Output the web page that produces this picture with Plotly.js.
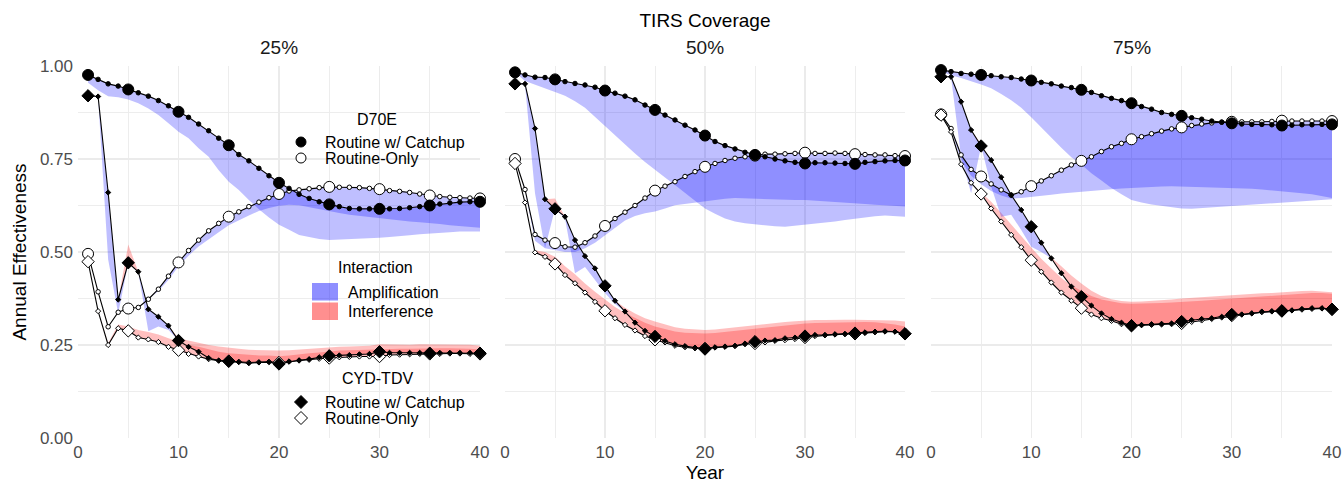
<!DOCTYPE html>
<html>
<head>
<meta charset="utf-8">
<script src="https://cdn.plot.ly/plotly-3.0.1.min.js"></script>
<style>html,body{margin:0;padding:0;background:#fff;}#chart{width:1342px;height:483px;}</style>
</head>
<body>
<div id="chart"></div>
<script>
// ---------- DATA ----------
const years = [1,2,3,4,5,6,7,8,9,10,11,12,13,14,15,16,17,18,19,20,21,22,23,24,25,26,27,28,29,30,31,32,33,34,35,36,37,38,39,40];
const bigYears = [1,5,10,15,20,25,30,35,40];
const panelTitles = ["25%", "50%", "75%"];
const xTicks = [0,10,20,30,40];
const yTicks = [0,0.25,0.5,0.75,1];

// 25% coverage
const d70eCatch25 = [0.976,0.964,0.952,0.946,0.937,0.928,0.919,0.907,0.893,0.877,0.862,0.844,0.826,0.806,0.787,0.762,0.745,0.725,0.705,0.686,0.671,0.655,0.644,0.635,0.628,0.622,0.617,0.616,0.616,0.616,0.616,0.617,0.619,0.622,0.625,0.629,0.632,0.634,0.635,0.635];
const d70eCatchRef25 = [0.955,0.935,0.919,0.916,0.91,0.90,0.886,0.868,0.846,0.823,0.806,0.779,0.756,0.72,0.689,0.667,0.64,0.615,0.593,0.573,0.56,0.546,0.54,0.535,0.532,0.532,0.533,0.535,0.537,0.538,0.54,0.542,0.545,0.548,0.55,0.552,0.553,0.555,0.556,0.555];
const d70eRout25 = [0.495,0.393,0.299,0.338,0.348,0.351,0.373,0.40,0.435,0.472,0.504,0.532,0.557,0.577,0.595,0.608,0.622,0.634,0.646,0.656,0.664,0.667,0.670,0.673,0.675,0.674,0.674,0.673,0.671,0.669,0.665,0.663,0.660,0.656,0.652,0.649,0.647,0.646,0.645,0.644];
const d70eRoutRef25 = [0.495,0.393,0.299,0.338,0.348,0.351,0.373,0.395,0.425,0.462,0.49,0.515,0.535,0.553,0.572,0.585,0.598,0.61,0.618,0.624,0.627,0.626,0.622,0.616,0.61,0.605,0.60,0.596,0.593,0.59,0.588,0.585,0.582,0.58,0.578,0.575,0.572,0.57,0.567,0.565];
const cydCatch25 = [0.92,0.918,0.66,0.372,0.471,0.447,0.346,0.326,0.302,0.262,0.245,0.232,0.215,0.208,0.206,0.204,0.201,0.203,0.204,0.199,0.205,0.209,0.212,0.217,0.221,0.222,0.223,0.225,0.226,0.232,0.229,0.229,0.229,0.229,0.228,0.229,0.229,0.229,0.229,0.228];
const cydCatchRef25 = [0.92,0.915,0.48,0.335,0.52,0.445,0.287,0.30,0.29,0.268,0.262,0.255,0.25,0.246,0.244,0.24,0.237,0.236,0.236,0.235,0.236,0.238,0.24,0.242,0.244,0.245,0.246,0.247,0.248,0.252,0.251,0.251,0.251,0.252,0.252,0.252,0.252,0.252,0.251,0.248];
const cydRout25 = [0.474,0.341,0.25,0.295,0.288,0.27,0.265,0.258,0.245,0.236,0.226,0.219,0.212,0.208,0.207,0.205,0.203,0.204,0.205,0.203,0.206,0.208,0.21,0.213,0.215,0.217,0.218,0.219,0.219,0.219,0.223,0.224,0.225,0.226,0.226,0.226,0.227,0.227,0.226,0.226];
const cydRoutRef25 = [0.474,0.341,0.255,0.305,0.30,0.29,0.285,0.278,0.268,0.258,0.25,0.245,0.238,0.232,0.228,0.226,0.222,0.222,0.222,0.22,0.222,0.226,0.228,0.23,0.233,0.235,0.236,0.237,0.238,0.24,0.24,0.24,0.24,0.241,0.241,0.241,0.241,0.241,0.24,0.238];

// 50% coverage
const d70eCatch50 = [0.983,0.976,0.970,0.969,0.964,0.958,0.953,0.949,0.943,0.934,0.927,0.919,0.909,0.895,0.882,0.868,0.855,0.841,0.828,0.813,0.797,0.786,0.777,0.768,0.761,0.756,0.75,0.745,0.741,0.738,0.740,0.740,0.739,0.738,0.737,0.741,0.743,0.745,0.746,0.746];
const d70eCatchRef50 = [0.983,0.96,0.95,0.94,0.93,0.92,0.905,0.888,0.865,0.84,0.815,0.79,0.765,0.742,0.72,0.70,0.68,0.66,0.638,0.617,0.603,0.59,0.582,0.577,0.573,0.571,0.569,0.568,0.57,0.573,0.576,0.579,0.582,0.586,0.59,0.593,0.596,0.598,0.597,0.595];
const d70eRout50 = [0.75,0.668,0.547,0.532,0.524,0.514,0.513,0.525,0.543,0.57,0.59,0.607,0.625,0.645,0.665,0.677,0.689,0.703,0.716,0.729,0.738,0.746,0.752,0.756,0.759,0.763,0.763,0.764,0.765,0.767,0.765,0.765,0.766,0.765,0.763,0.762,0.761,0.761,0.759,0.758];
const d70eRoutRef50 = [0.75,0.665,0.53,0.51,0.505,0.50,0.50,0.51,0.525,0.546,0.565,0.585,0.597,0.604,0.609,0.617,0.626,0.63,0.633,0.635,0.64,0.643,0.645,0.645,0.644,0.643,0.642,0.641,0.64,0.64,0.639,0.637,0.635,0.633,0.631,0.629,0.627,0.625,0.623,0.622];
const cydCatch50 = [0.952,0.952,0.832,0.642,0.616,0.595,0.532,0.489,0.456,0.409,0.369,0.34,0.31,0.288,0.273,0.261,0.252,0.247,0.243,0.239,0.244,0.246,0.248,0.254,0.259,0.262,0.263,0.268,0.27,0.274,0.277,0.277,0.279,0.28,0.282,0.284,0.286,0.287,0.286,0.28];
const cydCatchRef50 = [0.952,0.95,0.658,0.51,0.644,0.59,0.443,0.46,0.425,0.39,0.36,0.35,0.335,0.322,0.313,0.305,0.298,0.294,0.291,0.29,0.292,0.295,0.298,0.30,0.303,0.306,0.309,0.312,0.314,0.316,0.317,0.317,0.318,0.318,0.318,0.318,0.318,0.318,0.316,0.313];
const cydRout50 = [0.738,0.633,0.499,0.487,0.468,0.438,0.416,0.391,0.366,0.342,0.322,0.304,0.289,0.274,0.264,0.257,0.248,0.244,0.241,0.241,0.243,0.245,0.247,0.252,0.254,0.257,0.261,0.263,0.266,0.27,0.274,0.276,0.278,0.279,0.28,0.282,0.284,0.286,0.286,0.28];
const cydRoutRef50 = [0.738,0.633,0.505,0.50,0.487,0.462,0.44,0.415,0.393,0.372,0.352,0.336,0.322,0.31,0.30,0.292,0.286,0.283,0.281,0.281,0.282,0.285,0.288,0.291,0.294,0.297,0.30,0.303,0.306,0.308,0.309,0.31,0.311,0.312,0.313,0.312,0.311,0.309,0.305,0.30];

// 75% coverage
const d70eCatch75 = [0.989,0.985,0.98,0.978,0.976,0.974,0.971,0.969,0.965,0.961,0.956,0.952,0.946,0.942,0.936,0.929,0.92,0.913,0.907,0.90,0.891,0.884,0.875,0.87,0.866,0.861,0.857,0.852,0.849,0.846,0.844,0.843,0.843,0.842,0.84,0.841,0.842,0.842,0.843,0.843];
const d70eCatchRef75 = [0.985,0.975,0.968,0.96,0.95,0.94,0.925,0.908,0.888,0.862,0.835,0.808,0.78,0.755,0.735,0.712,0.692,0.672,0.655,0.64,0.633,0.628,0.623,0.62,0.617,0.616,0.617,0.618,0.62,0.622,0.624,0.626,0.628,0.63,0.632,0.634,0.636,0.638,0.64,0.642];
const d70eRout75 = [0.87,0.832,0.761,0.722,0.703,0.683,0.667,0.653,0.662,0.677,0.691,0.705,0.72,0.734,0.745,0.756,0.77,0.783,0.792,0.803,0.81,0.818,0.825,0.831,0.835,0.84,0.844,0.847,0.849,0.85,0.85,0.85,0.85,0.851,0.853,0.852,0.852,0.852,0.852,0.852];
const d70eRoutRef75 = [0.87,0.83,0.745,0.705,0.682,0.664,0.652,0.644,0.645,0.648,0.651,0.654,0.657,0.66,0.663,0.665,0.667,0.669,0.671,0.673,0.674,0.675,0.676,0.677,0.677,0.676,0.675,0.674,0.673,0.672,0.671,0.67,0.668,0.666,0.664,0.661,0.658,0.655,0.651,0.645];
const cydCatch75 = [0.971,0.971,0.904,0.828,0.785,0.747,0.701,0.653,0.613,0.568,0.525,0.483,0.443,0.407,0.38,0.356,0.335,0.32,0.31,0.302,0.304,0.306,0.307,0.308,0.313,0.317,0.32,0.322,0.326,0.332,0.332,0.335,0.34,0.341,0.342,0.343,0.347,0.349,0.349,0.346];
const cydCatchRef75 = [0.971,0.97,0.756,0.658,0.79,0.676,0.595,0.60,0.559,0.514,0.50,0.485,0.462,0.437,0.415,0.396,0.382,0.373,0.368,0.366,0.367,0.368,0.37,0.372,0.375,0.377,0.378,0.38,0.382,0.385,0.386,0.387,0.389,0.39,0.391,0.393,0.395,0.396,0.395,0.392];
const cydRout75 = [0.868,0.823,0.736,0.686,0.656,0.617,0.582,0.546,0.513,0.478,0.447,0.418,0.391,0.369,0.349,0.332,0.322,0.315,0.306,0.302,0.303,0.304,0.305,0.306,0.308,0.312,0.316,0.32,0.324,0.329,0.332,0.335,0.338,0.34,0.341,0.343,0.345,0.347,0.348,0.346];
const cydRoutRef75 = [0.868,0.823,0.736,0.686,0.66,0.635,0.605,0.573,0.543,0.512,0.482,0.455,0.43,0.41,0.395,0.382,0.372,0.366,0.362,0.361,0.361,0.362,0.363,0.364,0.365,0.367,0.369,0.371,0.373,0.375,0.377,0.379,0.381,0.383,0.385,0.387,0.389,0.39,0.39,0.388];

// ---------- BUILD ----------
const FONT = "Liberation Sans, Arial, Helvetica, sans-serif";
const BLUE = "rgba(0,0,255,0.25)";
const RED = "rgba(255,0,0,0.25)";

const panels = [
  {xa:"x",  ya:"y",  series:[[d70eRout25,d70eRoutRef25],[d70eCatch25,d70eCatchRef25],[cydRout25,cydRoutRef25],[cydCatch25,cydCatchRef25]]},
  {xa:"x2", ya:"y2", series:[[d70eRout50,d70eRoutRef50],[d70eCatch50,d70eCatchRef50],[cydRout50,cydRoutRef50],[cydCatch50,cydCatchRef50]]},
  {xa:"x3", ya:"y3", series:[[d70eRout75,d70eRoutRef75],[d70eCatch75,d70eCatchRef75],[cydRout75,cydRoutRef75],[cydCatch75,cydCatchRef75]]}
];
// marker styles in the same order as series: D70E RO, D70E catch-up, CYD RO, CYD catch-up
const styles = [
  {symbol:"circle",  fill:"#ffffff", big:11,  small:4.5},
  {symbol:"circle",  fill:"#000000", big:11,  small:4.5},
  {symbol:"diamond", fill:"#ffffff", big:9.5, small:4},
  {symbol:"diamond", fill:"#000000", big:9.5, small:4}
];

const traces = [];
const xsPoly = years.concat(years.slice().reverse());
panels.forEach(p => {
  p.series.forEach(([line, ref]) => {
    const lo = line.map((v,i) => Math.min(v, ref[i]));
    const hi = line.map((v,i) => Math.max(v, ref[i]));
    traces.push({type:"scatter", mode:"lines", x:xsPoly, y:line.concat(lo.slice().reverse()),
      fill:"toself", fillcolor:BLUE, line:{width:0, color:"rgba(0,0,0,0)"}, hoverinfo:"skip", showlegend:false, xaxis:p.xa, yaxis:p.ya});
    traces.push({type:"scatter", mode:"lines", x:xsPoly, y:hi.concat(line.slice().reverse()),
      fill:"toself", fillcolor:RED, line:{width:0, color:"rgba(0,0,0,0)"}, hoverinfo:"skip", showlegend:false, xaxis:p.xa, yaxis:p.ya});
  });
});
panels.forEach(p => {
  p.series.forEach(([line], k) => {
    const st = styles[k];
    traces.push({type:"scatter", mode:"lines+markers", x:years, y:line, cliponaxis:false,
      line:{color:"#000", width:1.1},
      marker:{symbol:st.symbol, color:st.fill, opacity:1, size:years.map(y => bigYears.includes(y) ? st.big : st.small),
              line:{color:"#000", width:1}},
      showlegend:false, xaxis:p.xa, yaxis:p.ya});
  });
});

// pixel -> paper helpers (plot area: x 78..1332, y 66..438)
const L = 78, W = 1254, B = 438, H = 372;
const px = v => (v - L) / W;
const py = v => (B - v) / H;

const gridCol = "#EBEBEB";
function xAxis(dom, anchor, extra) {
  return Object.assign({domain:dom, anchor:anchor, range:[0,40], tickvals:xTicks, ticks:"", showline:false, zeroline:false,
    gridcolor:gridCol, gridwidth:1.4, minor:{dtick:5, tick0:0, showgrid:true, gridcolor:gridCol, gridwidth:0.9},
    tickfont:{family:FONT, size:17, color:"#4D4D4D"}, ticklabelstandoff:2, fixedrange:true}, extra||{});
}
function yAxis(anchor, extra) {
  return Object.assign({domain:[0,1], anchor:anchor, range:[0,1], tickvals:yTicks, tickformat:".2f", ticks:"", showline:false, zeroline:false,
    gridcolor:gridCol, gridwidth:1.4, minor:{dtick:0.125, tick0:0, showgrid:true, gridcolor:gridCol, gridwidth:0.9},
    tickfont:{family:FONT, size:17, color:"#4D4D4D"}, ticklabelstandoff:4, fixedrange:true}, extra||{});
}

const d1 = [0, px(480)], d2 = [px(505), px(905)], d3 = [px(931), 1];

const annotations = [];
[d1,d2,d3].forEach((d,i) => annotations.push({text:panelTitles[i], xref:"paper", yref:"paper", x:(d[0]+d[1])/2, y:py(47),
  xanchor:"center", yanchor:"middle", showarrow:false, font:{family:FONT, size:19, color:"#1a1a1a"}}));

function txt(t, x, y, anchor) {
  annotations.push({text:t, xref:"paper", yref:"paper", x:px(x), y:py(y), xanchor:anchor, yanchor:"middle",
    showarrow:false, font:{family:FONT, size:16, color:"#000"}});
}
txt("D70E", 377, 119, "center");
txt("Routine w/ Catchup", 323, 142, "left");
txt("Routine-Only", 323, 158, "left");
txt("Interaction", 375, 267, "center");
txt("Amplification", 346, 292, "left");
txt("Interference", 346, 311, "left");
txt("CYD-TDV", 377, 378, "center");
txt("Routine w/ Catchup", 323, 402, "left");
txt("Routine-Only", 323, 418, "left");

const shapes = [];
function circ(cx, cy, r, fill) {
  shapes.push({type:"circle", xref:"paper", yref:"paper", x0:px(cx-r), x1:px(cx+r), y0:py(cy+r), y1:py(cy-r),
    fillcolor:fill, line:{color:"#000", width:1}});
}
function diam(cx, cy, r, fill) {
  const path = "M" + px(cx-r) + "," + py(cy) + " L" + px(cx) + "," + py(cy-r) + " L" + px(cx+r) + "," + py(cy) +
               " L" + px(cx) + "," + py(cy+r) + " Z";
  shapes.push({type:"path", xref:"paper", yref:"paper", path:path, fillcolor:fill, line:{color:"#000", width:1}});
}
function key(x0, y0, x1, y1, fill) {
  shapes.push({type:"rect", xref:"paper", yref:"paper", x0:px(x0), x1:px(x1), y0:py(y1), y1:py(y0), fillcolor:fill, line:{width:0}});
}
circ(301, 142, 5, "#000");
circ(301, 158, 5, "#fff");
key(312, 283, 338, 300.5, "rgba(0,0,255,0.4375)");
key(312, 302.5, 338, 320, "rgba(255,0,0,0.4375)");
diam(301, 402, 6.5, "#000");
diam(301, 418, 6.5, "#fff");

const layout = {
  width:1342, height:483,
  margin:{l:78, r:10, t:66, b:45, pad:0},
  paper_bgcolor:"#fff", plot_bgcolor:"#fff",
  font:{family:FONT, color:"#000"},
  showlegend:false,
  title:{text:"TIRS Coverage", x:705/1342, xref:"container", xanchor:"center", y:1-20/483, yref:"container", yanchor:"middle",
         font:{family:FONT, size:19, color:"#000"}},
  xaxis: xAxis(d1, "y"),
  xaxis2: xAxis(d2, "y2", {title:{text:"Year", font:{family:FONT, size:19, color:"#000"}, standoff:11}}),
  xaxis3: xAxis(d3, "y3"),
  yaxis: yAxis("x", {title:{text:"Annual Effectiveness", font:{family:FONT, size:19, color:"#000"}, standoff:8}}),
  yaxis2: yAxis("x2", {showticklabels:false}),
  yaxis3: yAxis("x3", {showticklabels:false}),
  annotations:annotations,
  shapes:shapes
};

Plotly.newPlot("chart", traces, layout, {staticPlot:true, displayModeBar:false});
</script>
</body>
</html>
